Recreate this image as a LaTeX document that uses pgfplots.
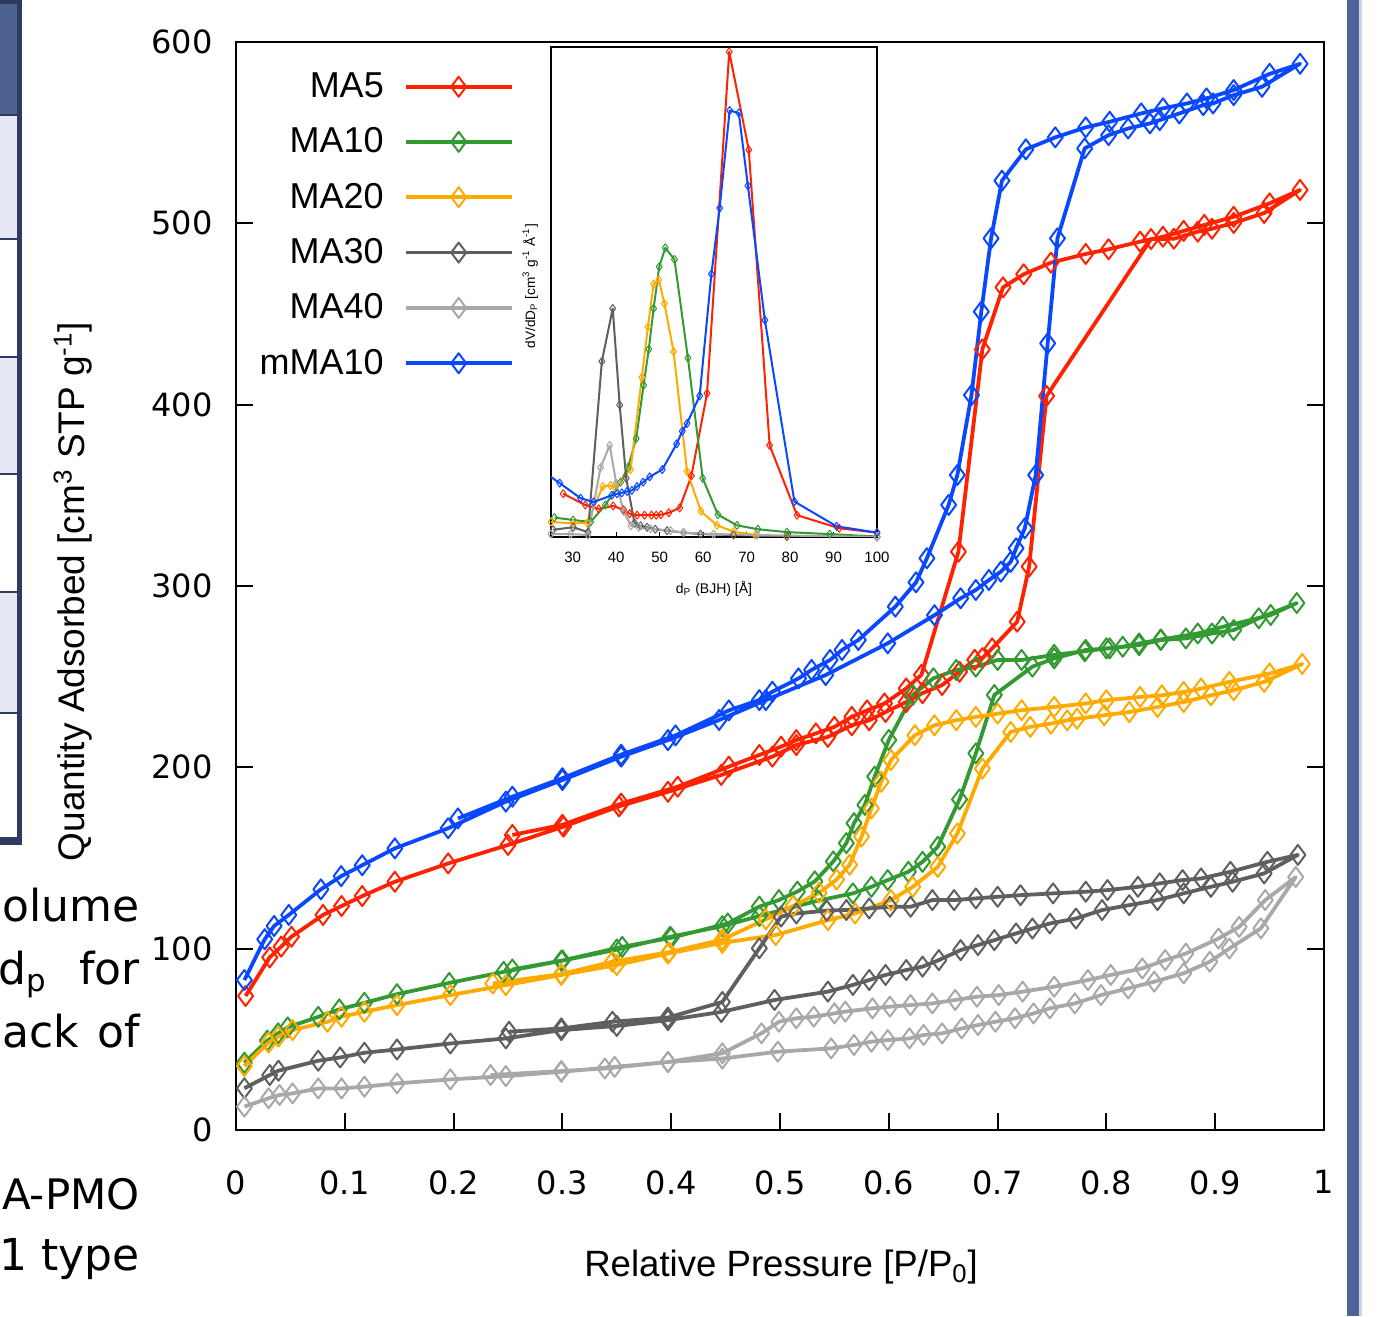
\documentclass[border=0pt]{standalone}
\usepackage{pgfplots}
\pgfplotsset{compat=1.18}
\usepackage{fontspec}
\setmainfont{Liberation Sans}
\newfontfamily\dejavu{DejaVu Sans}
\definecolor{cRed}{HTML}{FF2200}
\definecolor{cGreen}{HTML}{339933}
\definecolor{cYellow}{HTML}{FFAA00}
\definecolor{cDark}{HTML}{5F5F5F}
\definecolor{cLight}{HTML}{A8A8A8}
\definecolor{cBlue}{HTML}{0A48FF}
\definecolor{cNavy}{HTML}{2D3B5F}
\definecolor{cHead}{HTML}{4E6290}
\definecolor{cRow}{HTML}{E6E9F4}
\definecolor{cBar}{HTML}{4E6495}
\definecolor{cBarL}{HTML}{CCD4E8}
\pgfplotsset{
  mainstyle/.style={line width=1.9pt, line join=round, mark=diamond, mark size=5pt, mark options={solid, line width=1pt, fill=none}},
  insetstyle/.style={line width=1pt, line join=round, mark=diamond, mark size=2pt, mark options={solid, line width=0.5pt, fill=none}},
}
\begin{document}
\begin{tikzpicture}
\path[use as bounding box] (0,0) rectangle (690pt,658pt);
% ---- fragment of a table at the left edge
\fill[cHead] (0,656pt) rectangle (8.5pt,600.5pt);
\fill[cRow] (0,600.5pt) rectangle (8.5pt,538.5pt);
\fill[white] (0,538.5pt) rectangle (8.5pt,479.5pt);
\fill[cRow] (0,479.5pt) rectangle (8.5pt,421pt);
\fill[white] (0,421pt) rectangle (8.5pt,362pt);
\fill[cRow] (0,362pt) rectangle (8.5pt,301.5pt);
\fill[white] (0,301.5pt) rectangle (8.5pt,239.5pt);
\foreach \yy in {600.5,538.5,479.5,421,362,301.5}{\draw[cNavy, line width=1pt] (0,\yy pt) -- (8.5pt,\yy pt);}
\fill[cNavy] (8.5pt,658pt) rectangle (11pt,235.5pt);
\fill[cNavy] (0,658pt) rectangle (11pt,656pt);
\fill[cNavy] (0,239.5pt) rectangle (11pt,235.5pt);
% ---- fragment of text at the left edge
\begin{scope}[every node/.style={anchor=base east, inner sep=0pt, font=\dejavu\fontsize{22}{26}\selectfont}]
\node at (70pt,197pt) {olume};
\node at (70pt,165.5pt) {d\textsubscript{p}\hspace{16pt}for};
\node at (70pt,134pt) {ack\hspace{9pt}of};
\node[font=\dejavu\fontsize{21}{25}\selectfont] at (70pt,53pt) {A-PMO};
\node at (70pt,23pt) {1 type};
\end{scope}
% ---- bar at the right edge
\fill[cBar] (673.5pt,0) rectangle (679.5pt,658pt);
\fill[cBarL] (679.5pt,0) rectangle (681pt,658pt);

\begin{axis}[
  at={(118pt,93pt)}, anchor=south west, scale only axis,
  width=544pt, height=544pt,
  xmin=0, xmax=1, ymin=0, ymax=600,
  axis line style={line width=1.3pt},
  every tick/.style={black, line width=1pt},
  tick align=inside, major tick length=8.5pt,
  xtick pos=lower, ytick pos=both,
  xtick={0,0.1,0.2,0.3,0.4,0.5,0.6,0.7,0.8,0.9,1},
  xticklabels={0,0.1,0.2,0.3,0.4,0.5,0.6,0.7,0.8,0.9,1},
  ytick={0,100,200,300,400,500,600},
  yticklabels={0,100,200,300,400,500,600},
  tick label style={font=\dejavu\fontsize{16}{19}\selectfont},
  xticklabel style={inner sep=0pt, yshift=-20pt},
  yticklabel style={inner sep=0pt, xshift=-11.5pt},
  xlabel={Relative Pressure [P/P\textsubscript{0}]},
  xlabel style={at={(axis description cs:0.501,-0.126)}, anchor=center, font=\fontsize{18.3}{22}\selectfont},
  ylabel={Quantity Adsorbed [cm\textsuperscript{3} STP g\textsuperscript{-1}]},
  ylabel style={at={(axis description cs:-0.150,0.495)}, anchor=center, font=\fontsize{18.5}{22}\selectfont},
  legend plot pos=right, legend cell align=right,
  legend style={at={(axis description cs:0.2555,0.972)}, anchor=north east, draw=none, fill=white, inner sep=0pt,
    font=\fontsize{18}{21}\selectfont, row sep=13.6pt, column sep=10pt, nodes={inner sep=0pt}},
  legend image code/.code={\draw[mark repeat=2, mark phase=2] plot coordinates {(0pt,0pt) (26.5pt,0pt) (53pt,0pt)};},
]
% MA5
\addplot[mainstyle, color=cRed] coordinates {
(0.0088,73.9) (0.031,95.2) (0.0415,101.1) (0.051,106.6) (0.080,118.6) (0.097,123.5) (0.116,129.0) (0.146,136.9)
(0.195,147.0) (0.250,157.2) (0.301,167.3) (0.352,178.5) (0.397,186.5) (0.446,195.8) (0.493,205.9) (0.515,212.3)
(0.544,216.8) (0.566,223.2) (0.582,225.9) (0.597,230.5) (0.616,236.0) (0.631,240.9) (0.649,245.4) (0.665,252.7)
(0.679,259.3) (0.686,260.2) (0.695,265.6) (0.718,280.3) (0.729,310.7) (0.745,404.8) (0.841,491.3) (0.862,491.5)
(0.884,495.4) (0.897,497.0) (0.917,500.2) (0.945,505.7) (0.978,518.4)
(0.950,511.0) (0.917,503.6) (0.890,499.1) (0.871,495.8) (0.852,492.6) (0.831,489.9) (0.802,485.7) (0.781,483.1)
(0.749,478.3) (0.724,471.9) (0.705,464.7) (0.686,430.5) (0.664,318.9) (0.630,251.0) (0.616,243.5) (0.596,235.2)
(0.580,231.4) (0.566,227.8) (0.550,222.3) (0.533,218.7) (0.515,215.0) (0.501,211.4) (0.481,206.8) (0.453,200.4)
(0.406,189.3) (0.354,180.0) (0.300,168.3) (0.254,162.7)
};
\addlegendentry{MA5}
% MA10
\addplot[mainstyle, color=cGreen] coordinates {
(0.0077,37.1) (0.0288,49.3) (0.0387,53.3) (0.0475,56.6) (0.0756,62.4) (0.095,66.5) (0.118,70.1) (0.148,74.9)
(0.196,81.1) (0.246,87.2) (0.299,93.3) (0.350,99.5) (0.399,106.5) (0.447,112.4) (0.481,118.0) (0.535,126.5)
(0.567,130.5) (0.584,134.1) (0.599,137.8) (0.618,142.4) (0.631,147.9) (0.645,156.2) (0.665,182.3) (0.680,207.7)
(0.697,239.9) (0.732,255.5) (0.752,260.1) (0.781,264.7) (0.803,265.6) (0.830,267.4) (0.850,270.2) (0.873,271.1)
(0.897,273.8) (0.917,275.7) (0.940,282.2) (0.975,290.6)
(0.951,284.0) (0.907,277.5) (0.884,273.8) (0.850,270.5) (0.830,268.3) (0.815,266.5) (0.800,265.6) (0.780,264.0)
(0.752,262.0) (0.722,259.2) (0.700,259.2) (0.680,255.5) (0.662,253.7) (0.641,249.1) (0.622,239.9) (0.600,215.1)
(0.587,194.9) (0.578,179.3) (0.568,169.2) (0.561,158.2) (0.549,148.1) (0.532,137.1) (0.516,131.5) (0.499,126.8)
(0.481,123.2) (0.452,113.9) (0.400,106.0) (0.355,101.0) (0.300,93.5) (0.254,88.5)
};
\addlegendentry{MA10}
% MA20
\addplot[mainstyle, color=cYellow] coordinates {
(0.0077,35.3) (0.030,48.2) (0.039,51.5) (0.052,55.1) (0.084,59.7) (0.097,62.5) (0.118,65.2) (0.148,68.9)
(0.197,74.4) (0.248,79.9) (0.299,85.5) (0.350,91.0) (0.397,97.3) (0.447,103.2) (0.496,107.5) (0.544,115.7)
(0.569,119.4) (0.602,126.8) (0.622,134.1) (0.645,145.1) (0.663,163.5) (0.686,199.3) (0.712,219.5) (0.730,222.3)
(0.749,224.1) (0.764,225.9) (0.773,226.8) (0.798,228.7) (0.821,230.5) (0.847,233.3) (0.871,236.0) (0.896,239.7)
(0.917,242.5) (0.945,247.1) (0.980,257.0)
(0.950,251.7) (0.913,247.1) (0.887,243.4) (0.871,241.6) (0.851,239.7) (0.831,238.8) (0.800,237.0) (0.781,235.2)
(0.752,233.3) (0.722,231.5) (0.700,229.6) (0.680,227.8) (0.662,226.0) (0.642,223.2) (0.624,217.7) (0.602,204.0)
(0.593,192.0) (0.584,177.3) (0.575,161.8) (0.564,146.3) (0.552,138.1) (0.536,130.9) (0.512,123.5) (0.487,116.2)
(0.447,105.0) (0.398,98.0) (0.346,92.8) (0.299,86.0) (0.236,80.8)
};
\addlegendentry{MA20}
% MA30
\addplot[mainstyle, color=cDark] coordinates {
(0.0077,23.0) (0.031,30.3) (0.039,32.7) (0.0756,38.2) (0.0957,40.0) (0.118,42.6) (0.148,44.4) (0.197,47.7)
(0.248,50.5) (0.299,55.1) (0.350,57.4) (0.397,60.6) (0.446,65.1) (0.495,71.7) (0.544,76.3) (0.567,80.0)
(0.582,82.7) (0.597,85.5) (0.616,88.2) (0.631,90.1) (0.646,93.7) (0.666,99.2) (0.682,102.0) (0.697,104.7)
(0.717,108.4) (0.732,111.1) (0.748,113.9) (0.772,116.6) (0.796,121.3) (0.821,124.0) (0.847,126.8) (0.871,130.5)
(0.896,134.1) (0.916,136.9) (0.945,141.5) (0.976,151.7)
(0.948,147.9) (0.914,142.4) (0.887,138.7) (0.870,137.8) (0.849,136.0) (0.829,134.1) (0.801,132.3) (0.781,131.4)
(0.751,130.5) (0.721,129.5) (0.700,128.6) (0.680,127.7) (0.660,126.8) (0.640,126.8) (0.620,123.1) (0.601,123.1)
(0.582,122.2) (0.561,121.3) (0.543,121.0) (0.515,119.4) (0.501,117.7) (0.481,100.2) (0.447,70.6) (0.397,62.0)
(0.346,59.7) (0.299,56.0) (0.251,54.2)
};
\addlegendentry{MA30}
% MA40
\addplot[mainstyle, color=cLight] coordinates {
(0.0077,12.9) (0.030,17.5) (0.040,19.3) (0.052,20.2) (0.0756,22.9) (0.097,22.9) (0.118,23.9) (0.148,25.7)
(0.197,27.9) (0.248,29.7) (0.299,32.1) (0.348,34.8) (0.397,37.5) (0.447,39.4) (0.498,43.2) (0.547,45.0)
(0.568,46.9) (0.584,48.7) (0.599,49.6) (0.619,50.5) (0.632,52.4) (0.649,53.3) (0.667,56.0) (0.682,57.9)
(0.698,59.7) (0.716,61.6) (0.733,64.3) (0.748,67.1) (0.771,69.8) (0.795,74.4) (0.820,78.1) (0.844,81.8)
(0.871,86.4) (0.895,92.8) (0.913,100.1) (0.942,111.2) (0.974,139.5)
(0.946,126.8) (0.922,112.0) (0.903,105.6) (0.873,97.3) (0.854,93.7) (0.833,89.1) (0.804,85.5) (0.783,82.7)
(0.752,79.0) (0.723,76.3) (0.701,74.4) (0.681,73.5) (0.661,71.7) (0.640,69.8) (0.620,68.9) (0.601,68.0)
(0.585,67.1) (0.560,65.3) (0.550,64.3) (0.531,62.5) (0.515,61.6) (0.499,59.7) (0.483,53.3) (0.447,42.3)
(0.397,37.5) (0.339,33.9) (0.299,32.5) (0.234,30.3)
};
\addlegendentry{MA40}
% mMA10
\addplot[mainstyle, color=cBlue] coordinates {
(0.0077,82.7) (0.0264,105.2) (0.035,112.5) (0.0485,118.6) (0.078,132.7) (0.0967,140.0) (0.116,146.0) (0.146,155.3)
(0.195,166.4) (0.248,181.1) (0.300,193.0) (0.354,205.9) (0.397,215.0) (0.444,226.1) (0.487,237.1) (0.542,250.9)
(0.599,268.4) (0.642,283.9) (0.666,293.2) (0.680,297.8) (0.692,303.3) (0.703,307.9) (0.712,313.3) (0.717,320.8)
(0.725,331.8) (0.735,361.2) (0.746,433.8) (0.755,491.7) (0.780,541.3) (0.802,548.6) (0.820,552.3) (0.840,555.1)
(0.849,556.9) (0.867,560.6) (0.889,565.2) (0.898,566.1) (0.917,570.7) (0.943,575.3) (0.978,588.0)
(0.950,582.4) (0.917,573.5) (0.892,568.9) (0.874,566.1) (0.852,563.4) (0.832,560.6) (0.803,556.0) (0.781,552.9)
(0.753,547.4) (0.726,540.8) (0.704,523.5) (0.694,491.7) (0.685,451.3) (0.676,405.3) (0.663,361.2) (0.655,344.7)
(0.635,315.3) (0.625,302.0) (0.606,288.6) (0.572,270.2) (0.557,264.7) (0.546,259.2) (0.529,253.7) (0.517,249.0)
(0.493,241.7) (0.481,237.1) (0.453,231.4) (0.404,217.6) (0.354,207.0) (0.300,194.0) (0.254,183.8) (0.204,171.8)
};
\addlegendentry{mMA10}
\end{axis}

% ---- inset: pore size distribution
\begin{axis}[
  at={(275.5pt,389.5pt)}, anchor=south west, scale only axis,
  width=163pt, height=245pt,
  xmin=25, xmax=100, ymin=0, ymax=101,
  axis background/.style={fill=white},
  axis line style={line width=0.6pt},
  xtick={30,40,50,60,70,80,90,100},
  xticklabels={30,40,50,60,70,80,90,100},
  ytick=\empty, xtick pos=lower,
  tick align=inside, major tick length=2.5pt,
  every tick/.style={black, line width=0.5pt},
  tick label style={font=\fontsize{7.5}{9}\selectfont},
  xticklabel style={inner sep=0pt, yshift=-7.3pt},
  xlabel={d\textsubscript{P} (BJH) [Å]},
  xlabel style={at={(axis description cs:0.5,-0.106)}, anchor=center, font=\fontsize{7}{8}\selectfont},
  ylabel={dV/dD\textsubscript{P} [cm\textsuperscript{3} g\textsuperscript{-1} Å\textsuperscript{-1}]},
  ylabel style={at={(axis description cs:-0.064,0.512)}, anchor=center, font=\fontsize{6.8}{8}\selectfont},
]
\addplot[insetstyle, color=cRed] coordinates {
(27.8,8.9) (32.9,6.6) (36.0,5.8) (39.3,6.4) (41.7,5.6) (43.1,4.8) (44.8,4.5) (46.5,4.5) (48.1,4.5) (49.2,4.5)
(50.3,4.6) (52.1,5.0) (54.6,6.0) (57.3,12.6) (60.9,29.6) (66.0,100.0) (70.5,79.8) (75.3,18.9) (81.6,4.5)
(91.3,1.8) (100,0.9)
};
\addplot[insetstyle, color=cGreen] coordinates {
(25.8,4.0) (30.1,3.5) (34.1,3.1) (37.5,6.6) (41.0,11.3) (42.7,14.3) (44.6,20.3) (46.3,31.3) (47.5,38.7)
(48.6,47.1) (49.9,55.7) (51.3,59.6) (53.4,57.2) (56.5,36.9) (59.9,12.1) (63.4,4.6) (67.8,2.4) (72.6,1.6)
(79.3,1.0) (89.1,0.6) (100,0.1)
};
\addplot[insetstyle, color=cYellow] coordinates {
(25.0,3.1) (30.1,2.8) (33.3,2.9) (36.9,10.4) (38.7,10.6) (39.8,10.2) (43.3,13.9) (45.9,32.9) (47.3,43.3)
(48.6,52.1) (49.8,53.0) (51.1,48.1) (53.2,38.2) (56.3,13.5) (59.5,5.3) (63.2,2.4) (67.0,1.1) (72.0,0.4)
(79.2,0.1) (100,0.0)
};
\addplot[insetstyle, color=cDark] coordinates {
(25.5,1.5) (30.1,2.0) (33.5,1.0) (36.7,36.2) (39.2,47.1) (40.8,27.2) (42.3,12.1) (44.2,2.9) (45.6,2.3)
(47.1,2.0) (49.0,1.6) (51.7,1.3) (55.5,0.9) (59.4,0.6) (67.0,0.4) (79.3,0.1) (100,0.0)
};
\addplot[insetstyle, color=cLight] coordinates {
(25.0,0.6) (29.5,0.6) (33.5,0.4) (36.4,14.3) (38.5,18.9) (40.0,11.1) (41.7,5.3) (43.4,2.3) (45.2,2.0)
(47.9,1.7) (52.5,1.3) (55.5,0.9) (62.4,0.6) (72.4,0.4) (100,0.0)
};
\addplot[insetstyle, color=cBlue] coordinates {
(27.0,11.1) (31.8,8.0) (34.8,7.2) (39.0,8.6) (40.2,8.9) (41.3,9.1) (42.5,9.4) (43.6,9.6) (44.8,10.4)
(46.2,11.3) (47.7,12.4) (50.6,13.9) (53.9,19.2) (55.2,21.8) (56.3,23.4) (59.2,29.1) (61.9,54.2) (63.8,67.8)
(66.1,87.9) (68.2,87.4) (70.3,72.4) (74.2,44.7) (81.0,7.3) (90.7,2.2) (100,0.9)
};
\addplot[line width=1pt, color=cBlue] coordinates {(24.0,13.0) (27.0,11.1)};
\end{axis}
\end{tikzpicture}
\end{document}
